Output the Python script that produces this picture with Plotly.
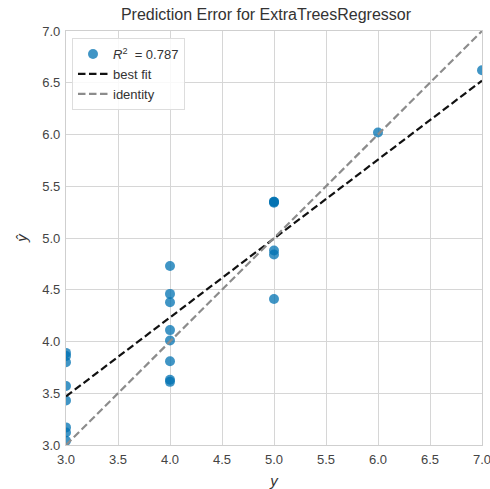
import plotly.graph_objects as go

# Data
y_true = [3, 3, 3, 3, 3, 3, 3, 3,
          4, 4, 4, 4, 4, 4, 4, 4,
          5, 5, 5, 5, 5, 5,
          6, 7]
y_pred = [3.89, 3.86, 3.80, 3.57, 3.43, 3.17, 3.12, 3.04,
          4.73, 4.46, 4.38, 4.11, 4.01, 3.81, 3.63, 3.61,
          5.35, 5.34, 5.35, 4.88, 4.84, 4.41,
          6.02, 6.62]
r2_value = 0.787
axis_limits = [3.0, 7.0]
best_fit_at_limits = [3.47, 6.52]   # best-fit line values read at y = 3.0 and y = 7.0
axis_ticks = [3.0, 3.5, 4.0, 4.5, 5.0, 5.5, 6.0, 6.5, 7.0]

font_family = "Liberation Sans, Arial, sans-serif"

fig = go.Figure()
fig.add_trace(go.Scatter(
    x=y_true, y=y_pred, mode="markers",
    marker=dict(color="#0072b2", size=10, opacity=0.75, line=dict(width=0)),
    name="<i>R</i><sup>2</sup>  = %.3f" % r2_value,
))
fig.add_trace(go.Scatter(
    x=axis_limits, y=best_fit_at_limits, mode="lines",
    line=dict(color="#111111", width=2.2, dash="7.5px,3.5px"),
    name="best fit",
))
fig.add_trace(go.Scatter(
    x=axis_limits, y=axis_limits, mode="lines",
    line=dict(color="#8c8c8c", width=2.2, dash="7.5px,3.5px"),
    name="identity",
))

axis_common = dict(
    range=axis_limits, tickvals=axis_ticks, ticktext=["%.1f" % v for v in axis_ticks],
    showgrid=True, gridcolor="#d6d6d6", gridwidth=1.2,
    showline=True, linecolor="#cfcfcf", linewidth=1.2, mirror=True,
    zeroline=False, ticks="", tickfont=dict(size=13, color="#444444", family=font_family),
    automargin=False, ticklabeloverflow="allow",
)

fig.update_layout(
    width=490, height=489,
    margin=dict(l=66, r=8, t=31, b=44),
    plot_bgcolor="white", paper_bgcolor="white",
    font=dict(family=font_family, color="#333333"),
    title=dict(text="Prediction Error for ExtraTreesRegressor", x=266 / 490, xanchor="center",
               y=1 - 14 / 489, yanchor="middle", font=dict(size=16, color="#333333")),
    xaxis=dict(**axis_common, ticklabelstandoff=2,
               title=dict(text="<i>y</i>", font=dict(size=15, color="#333333"), standoff=9)),
    yaxis=dict(**axis_common, ticklabelstandoff=2,
               title=dict(text="<i>ŷ</i>", font=dict(size=15, color="#333333"), standoff=10)),
    legend=dict(x=0.0144, y=0.983, xanchor="left", yanchor="top",
                bgcolor="rgba(255,255,255,0.85)", bordercolor="#dddddd", borderwidth=1,
                font=dict(size=13, color="#333333", family=font_family),
                itemwidth=30, tracegroupgap=0),
    showlegend=True,
)

# Remove the default page margin so the figure fills the window exactly.
fig.write_html("out.html",
               config={"displayModeBar": False},
               post_script="document.body.style.margin='0';document.body.style.overflow='hidden';")
